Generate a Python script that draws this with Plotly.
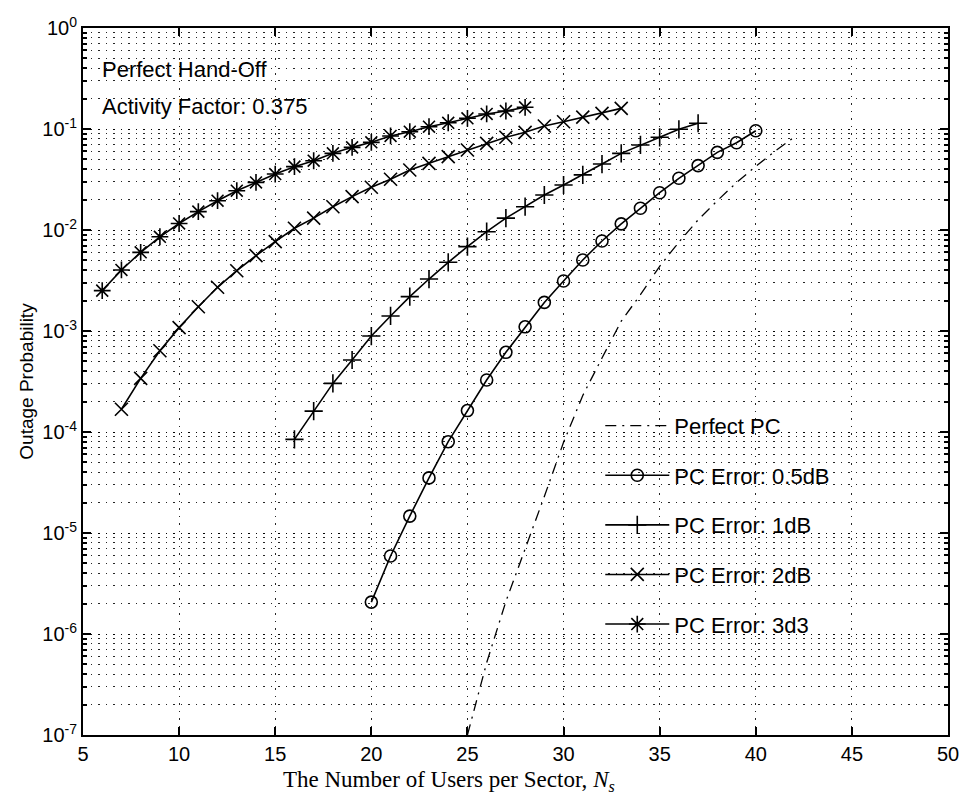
import plotly.graph_objects as go

# ---------------- data ----------------
x_perfect = list(range(25, 43))
p_perfect = [1.0e-7, 5.2e-7, 2.1e-6, 6.8e-6, 2.3e-5, 7.9e-5, 2.3e-4, 5.4e-4, 1.25e-3,
             2.29e-3, 4.37e-3, 7.59e-3, 1.26e-2, 1.95e-2, 2.95e-2, 4.27e-2, 6.03e-2, 8.3e-2]

x_05db = list(range(20, 41))
p_05db = [2.07e-6, 5.92e-6, 1.47e-5, 3.51e-5, 8.02e-5, 1.63e-4, 3.27e-4, 6.15e-4, 1.10e-3,
          1.92e-3, 3.13e-3, 5.05e-3, 7.78e-3, 1.15e-2, 1.64e-2, 2.34e-2, 3.25e-2, 4.34e-2,
          5.87e-2, 7.31e-2, 9.62e-2]

x_1db = list(range(16, 38))
p_1db = [8.45e-5, 1.61e-4, 3.03e-4, 5.16e-4, 8.91e-4, 1.41e-3, 2.19e-3, 3.27e-3, 4.79e-3,
         6.84e-3, 9.62e-3, 1.31e-2, 1.70e-2, 2.22e-2, 2.79e-2, 3.51e-2, 4.50e-2, 5.74e-2,
         6.95e-2, 8.28e-2, 9.93e-2, 0.114]

x_2db = list(range(7, 34))
p_2db = [1.68e-4, 3.40e-4, 6.38e-4, 1.08e-3, 1.74e-3, 2.71e-3, 3.95e-3, 5.57e-3, 7.66e-3,
         1.04e-2, 1.31e-2, 1.70e-2, 2.14e-2, 2.65e-2, 3.18e-2, 3.93e-2, 4.57e-2, 5.32e-2,
         6.19e-2, 7.21e-2, 8.28e-2, 9.27e-2, 0.107, 0.118, 0.131, 0.143, 0.160]

x_3db = list(range(6, 29))
p_3db = [2.51e-3, 4.02e-3, 6.01e-3, 8.57e-3, 1.16e-2, 1.52e-2, 1.95e-2, 2.45e-2, 2.96e-2,
         3.58e-2, 4.24e-2, 4.85e-2, 5.74e-2, 6.58e-2, 7.38e-2, 8.53e-2, 9.40e-2, 0.1054,
         0.1153, 0.1276, 0.1409, 0.1507, 0.164]

series_names = ["Perfect PC", "PC Error: 0.5dB", "PC Error: 1dB", "PC Error: 2dB", "PC Error: 3d3"]

x_ticks = [5, 10, 15, 20, 25, 30, 35, 40, 45, 50]
y_ticks = [1e-7, 1e-6, 1e-5, 1e-4, 1e-3, 1e-2, 1e-1, 1]
y_ticktext = ["10<sup>-7</sup>", "10<sup>-6</sup>", "10<sup>-5</sup>", "10<sup>-4</sup>",
              "10<sup>-3</sup>", "10<sup>-2</sup>", "10<sup>-1</sup>", "10<sup>0</sup>"]

SANS = "Liberation Sans, Arial, Helvetica"
SERIF = "Liberation Serif, Times New Roman"

# ---------------- figure ----------------
fig = go.Figure()

fig.add_trace(go.Scatter(x=x_perfect, y=p_perfect, mode="lines", name=series_names[0],
                         legendgroup="a",
                         line=dict(color="black", width=1.3, dash="11px,6px,2px,6px")))

marker_specs = [
    (x_05db, p_05db, "circle-open", 12, "b"),
    (x_1db, p_1db, "cross-thin-open", 13, "c"),
    (x_2db, p_2db, "x-thin-open", 13, "d"),
    (x_3db, p_3db, "asterisk-open", 14, "e"),
]
for (xs, ys, sym, sz, grp), nm in zip(marker_specs, series_names[1:]):
    fig.add_trace(go.Scatter(
        x=xs, y=ys, mode="lines+markers", name=nm, legendgroup=grp,
        line=dict(color="black", width=1.6),
        marker=dict(symbol=sym, size=sz, color="black",
                    line=dict(color="black", width=1.6))))

grid_dash = "1.5px,6px"
grid_col = "rgba(0,0,0,0.85)"

fig.update_xaxes(
    range=[5, 50], tickvals=x_ticks, ticks="inside", ticklen=8, tickwidth=1.5,
    tickcolor="black", showline=True, linecolor="black", linewidth=2, mirror="ticks",
    showgrid=True, gridcolor=grid_col, gridwidth=1, griddash=grid_dash, zeroline=False,
    tickfont=dict(family=SANS, size=20, color="black"),
)
fig.update_yaxes(
    type="log", range=[-7, 0], tickvals=y_ticks, ticktext=y_ticktext,
    ticks="inside", ticklen=8, tickwidth=1.5, tickcolor="black",
    showline=True, linecolor="black", linewidth=2, mirror="ticks",
    showgrid=True, gridcolor=grid_col, gridwidth=1, griddash=grid_dash, zeroline=False,
    minor=dict(dtick="D1", ticks="inside", ticklen=4, tickcolor="black",
               showgrid=True, gridcolor=grid_col, gridwidth=1, griddash=grid_dash),
    tickfont=dict(family=SANS, size=20, color="black"),
    title=dict(text="Outage Probability", font=dict(family=SANS, size=19, color="black"),
               standoff=4),
)

# x-axis title (placed slightly left of centre, as in the reference)
fig.add_annotation(xref="paper", yref="paper", x=0.423, y=-0.043, xanchor="center", yanchor="top",
                   text="The Number of Users per Sector, <i>N</i><sub><i>s</i></sub>",
                   showarrow=False, font=dict(family=SERIF, size=23, color="black"))

fig.add_annotation(xref="paper", yref="paper", x=0.02, y=0.942, xanchor="left", yanchor="middle",
                   text="Perfect Hand-Off", showarrow=False,
                   font=dict(family=SANS, size=22, color="black"))
fig.add_annotation(xref="paper", yref="paper", x=0.02, y=0.889, xanchor="left", yanchor="middle",
                   text="Activity Factor: 0.375", showarrow=False,
                   font=dict(family=SANS, size=22, color="black"))

fig.update_layout(
    width=971, height=799,
    margin=dict(l=83, r=18, t=28, b=64),
    paper_bgcolor="white", plot_bgcolor="white",
    showlegend=True,
    legend=dict(x=0.598, y=0.467, xanchor="left", yanchor="top",
                bgcolor="rgba(0,0,0,0)", borderwidth=0,
                font=dict(family=SANS, size=22, color="black"),
                tracegroupgap=18, itemwidth=64, traceorder="grouped"),
)

fig.write_html("out.html")
